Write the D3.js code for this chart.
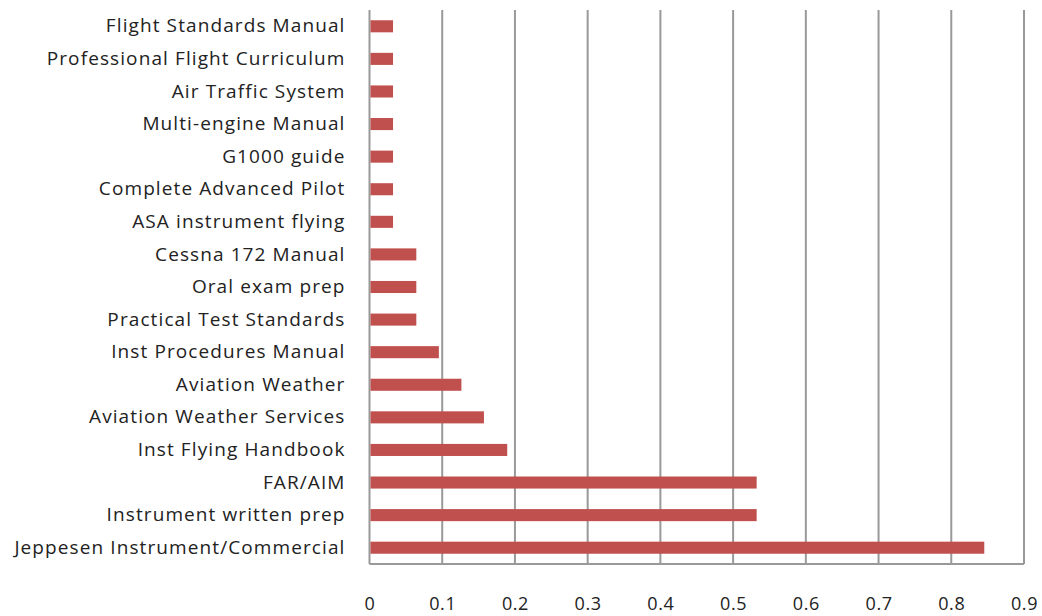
<!DOCTYPE html>
<html>
<head>
<meta charset="utf-8">
<script src="https://cdn.jsdelivr.net/npm/d3@7"></script>
<style>
  body { margin: 0; background: #fff; }
  text { font-family: "Open Sans", sans-serif; fill: #222; }
</style>
</head>
<body>
<div class="chart"></div>
<script>
var categories = [
    'Flight Standards Manual',
    'Professional Flight Curriculum',
    'Air Traffic System',
    'Multi-engine Manual',
    'G1000 guide',
    'Complete Advanced Pilot',
    'ASA instrument flying',
    'Cessna 172 Manual',
    'Oral exam prep',
    'Practical Test Standards',
    'Inst Procedures Manual',
    'Aviation Weather',
    'Aviation Weather Services',
    'Inst Flying Handbook',
    'FAR/AIM',
    'Instrument written prep',
    'Jeppesen Instrument/Commercial'
];
var values = [0.031, 0.031, 0.031, 0.031, 0.031, 0.031, 0.031, 0.063, 0.063, 0.063,
    0.094, 0.125, 0.156, 0.188, 0.531, 0.531, 0.844];
var tickValues = [0, 0.1, 0.2, 0.3, 0.4, 0.5, 0.6, 0.7, 0.8, 0.9];

var margin = { top: 10, right: 18, bottom: 52, left: 369.5 };
var width = 1042 - margin.left - margin.right;
var height = 616 - margin.top - margin.bottom;

var svg = d3.select('.chart')
    .append('svg')
    .attr('width', 1042)
    .attr('height', 616)
    .append('g')
    .attr('transform', `translate(${margin.left}, ${margin.top})`);

var xScale = d3.scaleLinear()
    .domain([0, 0.9])
    .range([0, width]);

var yScale = d3.scaleBand()
    .domain(categories)
    .range([0, height])
    .paddingInner(0.63)
    .paddingOuter(0.315);

// vertical gridlines
svg.append('g')
    .selectAll('line')
    .data(tickValues)
    .enter()
    .append('line')
    .attr('x1', d => xScale(d))
    .attr('x2', d => xScale(d))
    .attr('y1', 0)
    .attr('y2', height)
    .style('stroke', '#999')
    .style('stroke-width', 2);

// bottom line
svg.append('line')
    .attr('x1', 0)
    .attr('x2', width)
    .attr('y1', height)
    .attr('y2', height)
    .style('stroke', '#999')
    .style('stroke-width', 2);

svg.selectAll('.bar')
    .data(values)
    .enter()
    .append('rect')
    .attr('class', 'bar')
    .attr('x', xScale(0) + 1)
    .attr('y', (d, i) => yScale(categories[i]))
    .attr('width', d => xScale(d) - xScale(0))
    .attr('height', yScale.bandwidth())
    .style('fill', '#C0504D');

// x tick labels
var xAxis = svg.append('g')
    .attr('transform', `translate(0, ${height})`)
    .call(d3.axisBottom(xScale).tickValues(tickValues).tickFormat(d3.format('')).tickSize(0).tickPadding(33));
xAxis.select('.domain').remove();
xAxis.selectAll('text')
    .style('font-size', '18px')
    .style('letter-spacing', '0.6px')
    .style('font-family', '"Open Sans", sans-serif')
    .attr('fill', '#222');

// category labels
var yAxis = svg.append('g')
    .call(d3.axisLeft(yScale).tickSize(0).tickPadding(24));
yAxis.select('.domain').remove();
yAxis.selectAll('text')
    .style('font-size', '19px')
    .style('letter-spacing', '1.1px')
    .style('font-family', '"Open Sans", sans-serif')
    .attr('fill', '#222');
</script>
</body>
</html>
